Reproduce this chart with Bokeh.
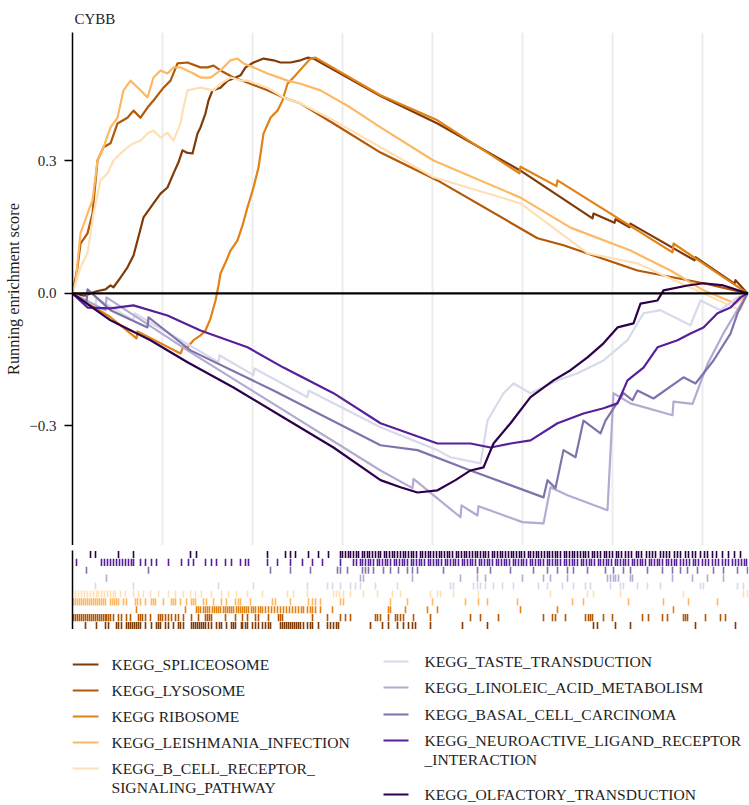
from bokeh.plotting import figure
from bokeh.models import Range1d, FixedTicker, Span, CustomJSTickFormatter, Title
from bokeh.layouts import column
from bokeh.embed import file_html
from bokeh.resources import INLINE
from bokeh.core.properties import value

# ---------------------------------------------------------------- data
N_GENES = 16900          # length of the ranked gene list
GRID_STEP = 2250         # vertical guide spacing (genes)

set_names = [
    "KEGG_SPLICEOSOME",
    "KEGG_LYSOSOME",
    "KEGG RIBOSOME",
    "KEGG_LEISHMANIA_INFECTION",
    "KEGG_B_CELL_RECEPTOR_\nSIGNALING_PATHWAY",
    "KEGG_TASTE_TRANSDUCTION",
    "KEGG_LINOLEIC_ACID_METABOLISM",
    "KEGG_BASAL_CELL_CARCINOMA",
    "KEGG_NEUROACTIVE_LIGAND_RECEPTOR\n_INTERACTION",
    "KEGG_OLFACTORY_TRANSDUCTION",
]
set_colors = ["#7f3b08", "#b35806", "#e08214", "#fdb863", "#fee0b6",
              "#d8daeb", "#b2abd2", "#8073ac", "#56209a", "#2d004b"]

# running enrichment score: gene rank -> score
spliceosome_rank = [0, 300, 600, 825, 950, 1025, 1200, 1375, 1525, 1625, 1775, 1900, 2025, 2200, 2375, 2525,
                    2650, 2750, 2850, 3000, 3125, 3200, 3325, 3400, 3500, 3700, 3875, 4025, 4200, 4325, 4525,
                    4775, 5025, 5200, 5450, 5700, 5875, 6025, 7700, 9125, 11200, 13000, 13025, 13550, 13575,
                    13925, 13950, 15550, 15575, 16550, 16575, 16875]
spliceosome_es = [0, -0.005, 0.005, 0.009, 0.018, 0.014, 0.036, 0.059, 0.086, 0.120, 0.172, 0.188, 0.204, 0.226,
                  0.240, 0.272, 0.297, 0.324, 0.319, 0.317, 0.362, 0.376, 0.408, 0.437, 0.460, 0.466, 0.482,
                  0.487, 0.494, 0.512, 0.523, 0.532, 0.528, 0.523, 0.523, 0.528, 0.534, 0.532, 0.447, 0.385,
                  0.278, 0.170, 0.181, 0.160, 0.168, 0.150, 0.158, 0.075, 0.082, 0.022, 0.030, 0.0]

lysosome_rank = [0, 125, 200, 375, 500, 625, 775, 950, 1125, 1375, 1525, 1700, 1875, 2025, 2275, 2450, 2625,
                 2875, 3200, 3375, 3525, 3700, 4025, 4450, 4875, 5275, 5700, 6525, 7700, 9125, 11625, 12275,
                 14125, 15775, 16875]
lysosome_es = [0, 0.059, 0.113, 0.136, 0.181, 0.301, 0.331, 0.340, 0.385, 0.398, 0.414, 0.398, 0.421, 0.437,
               0.466, 0.482, 0.521, 0.523, 0.512, 0.512, 0.516, 0.505, 0.489, 0.475, 0.460, 0.444, 0.430,
               0.385, 0.319, 0.256, 0.125, 0.109, 0.052, 0.023, 0.0]

ribosome_rank = [0, 950, 1600, 1625, 2700, 2775, 2875, 3025, 3200, 3325, 3450, 3575, 3650, 3700, 3825, 3950,
                 4125, 4250, 4375, 4525, 4650, 4775, 4950, 5125, 5250, 5375, 5525, 5750, 5950, 6075, 7700,
                 9125, 11175, 11200, 12100, 12125, 15000, 15025, 16875]
ribosome_es = [0, -0.054, -0.102, -0.086, -0.136, -0.120, -0.122, -0.106, -0.095, -0.084, -0.057, -0.016,
               0.018, 0.045, 0.070, 0.097, 0.120, 0.154, 0.195, 0.240, 0.285, 0.362, 0.398, 0.414, 0.437,
               0.475, 0.489, 0.512, 0.532, 0.534, 0.449, 0.392, 0.272, 0.287, 0.243, 0.256, 0.093, 0.113, 0.0]

leishmania_rank = [0, 75, 200, 375, 500, 625, 775, 950, 1125, 1275, 1450, 1700, 1875, 2025, 2200, 2375, 2525,
                   2700, 3025, 3200, 3450, 3700, 3950, 4125, 4275, 4525, 4875, 5375, 5700, 6200, 6950, 7700,
                   9025, 11200, 12450, 13950, 14950, 15775, 16575, 16875]
leishmania_es = [0, 0.023, 0.136, 0.181, 0.211, 0.301, 0.331, 0.376, 0.398, 0.460, 0.482, 0.460, 0.444, 0.489,
                 0.505, 0.498, 0.512, 0.512, 0.498, 0.489, 0.489, 0.505, 0.528, 0.532, 0.521, 0.512, 0.498,
                 0.482, 0.475, 0.460, 0.421, 0.376, 0.301, 0.217, 0.149, 0.097, 0.052, 0.007, -0.023, 0.0]

bcell_rank = [0, 200, 375, 525, 700, 875, 1025, 1200, 1375, 1525, 1700, 1875, 2025, 2200, 2375, 2525, 2700,
              2775, 2875, 3200, 3525, 3700, 3950, 4200, 4375, 4875, 5275, 5700, 6525, 7700, 9025, 11200,
              12875, 14125, 15775, 16700, 16875]
bcell_es = [0, 0.059, 0.091, 0.181, 0.256, 0.272, 0.301, 0.317, 0.331, 0.340, 0.346, 0.362, 0.369, 0.353,
            0.364, 0.346, 0.385, 0.421, 0.460, 0.466, 0.460, 0.475, 0.489, 0.482, 0.482, 0.466, 0.444, 0.430,
            0.392, 0.331, 0.263, 0.204, 0.091, 0.068, 0.0, -0.038, 0.0]

taste_rank = [0, 575, 600, 1525, 1550, 3650, 3675, 4525, 4550, 5875, 5900, 7700, 9125, 9450, 10200, 10375,
              10775, 11025, 11450, 12125, 12625, 13275, 13875, 14275, 14700, 15450, 15700, 16200, 16625, 16875]
taste_es = [0, -0.027, -0.011, -0.061, -0.045, -0.156, -0.140, -0.185, -0.170, -0.235, -0.220, -0.303, -0.355,
            -0.371, -0.385, -0.288, -0.226, -0.204, -0.226, -0.197, -0.181, -0.152, -0.106, -0.045, -0.038,
            -0.072, -0.016, -0.038, -0.009, 0.0]

linoleic_rank = [0, 825, 850, 2875, 7700, 8500, 8525, 9700, 9725, 10125, 10150, 11250, 11775, 11950, 12375,
                 13375, 13525, 13950, 15000, 15025, 15500, 15875, 16275, 16875]
linoleic_es = [0, -0.038, -0.009, -0.129, -0.401, -0.441, -0.420, -0.507, -0.480, -0.503, -0.482, -0.518,
               -0.521, -0.439, -0.457, -0.491, -0.226, -0.249, -0.276, -0.245, -0.250, -0.160, -0.090, 0.0]

basal_rank = [0, 350, 375, 950, 1875, 1900, 2950, 5025, 7700, 8625, 9950, 11775, 11875, 12075, 12275, 12575,
              12775, 13200, 13325, 13775, 14000, 14125, 14525, 15275, 15575, 16025, 16450, 16625, 16875]
basal_es = [0, -0.020, 0.009, -0.038, -0.077, -0.054, -0.129, -0.220, -0.344, -0.355, -0.401, -0.462, -0.423,
            -0.441, -0.355, -0.371, -0.288, -0.317, -0.288, -0.226, -0.242, -0.220, -0.238, -0.190, -0.204,
            -0.152, -0.091, -0.045, 0.0]

neuro_rank = [0, 375, 950, 1525, 2375, 3200, 4375, 5275, 6525, 7700, 9125, 9950, 10450, 10950, 11450, 12125,
              12775, 13275, 13625, 13875, 14275, 14625, 15125, 15450, 15775, 16125, 16450, 16700, 16875]
neuro_es = [0, -0.032, -0.034, -0.027, -0.050, -0.084, -0.122, -0.168, -0.226, -0.294, -0.340, -0.340, -0.349,
            -0.340, -0.333, -0.294, -0.272, -0.260, -0.249, -0.197, -0.168, -0.122, -0.106, -0.091, -0.077,
            -0.045, -0.032, -0.009, 0.0]

olfactory_rank = [0, 950, 1950, 2875, 4025, 5275, 6525, 7700, 8200, 8625, 9125, 9575, 9950, 10275, 10525,
                  10950, 11450, 12025, 12450, 12875, 13275, 13625, 14025, 14200, 14625, 14775, 15375, 15775,
                  16275, 16875]
olfactory_es = [0, -0.061, -0.106, -0.156, -0.213, -0.281, -0.349, -0.423, -0.439, -0.451, -0.446, -0.423,
                -0.401, -0.394, -0.340, -0.294, -0.235, -0.197, -0.174, -0.145, -0.113, -0.077, -0.068,
                -0.023, -0.016, 0.007, 0.018, 0.023, 0.018, 0.0]

# positions of the set members in the ranked list
spliceosome_hits = [325, 600, 825, 900, 1100, 1150, 1225, 1350, 1400, 1450, 1500, 1550, 1600, 1650, 1700,
                    1825, 1975, 2100, 2150, 2200, 2325, 2400, 2525, 2650, 2700, 2775, 2975, 3025, 3075, 3125,
                    3175, 3225, 3275, 3325, 3400, 3475, 3600, 3675, 3725, 3850, 3975, 4025, 4075, 4225, 4250,
                    4325, 4375, 4500, 4575, 4650, 4750, 4825, 4900, 4950, 5200, 5250, 5300, 5350, 5400, 5450,
                    5500, 5550, 5600, 5650, 5700, 5775, 5875, 5950, 6000, 6150, 6375, 6450, 6525, 6600, 6650,
                    7450, 7750, 7900, 8125, 8275, 8400, 8500, 8575, 8950, 9750, 10375, 13025, 13125, 13575,
                    13950, 15575, 16575]
lysosome_hits = [25, 75, 125, 175, 225, 275, 325, 375, 425, 475, 525, 575, 625, 675, 725, 775, 825, 850, 900,
                 950, 1025, 1150, 1225, 1350, 1450, 1650, 1700, 1750, 1825, 1950, 2150, 2200, 2250, 2325, 2400,
                 2475, 2575, 2650, 2775, 2975, 3150, 3325, 3375, 3425, 3475, 3825, 4075, 4250, 4375, 4575,
                 4650, 4900, 5150, 5200, 5250, 6000, 6375, 6700, 6825, 6950, 7575, 7625, 7700, 7900, 8075,
                 8125, 8200, 8275, 8525, 8950, 9950, 10200, 10650, 11775, 12000, 12075, 12325, 12825, 12900,
                 12950, 13000, 13275, 13500, 14250, 14400, 14750, 14875, 15275, 15325, 15375, 15825, 16200,
                 16325]
ribosome_hits = [1600, 2825, 3100, 3150, 3200, 3275, 3325, 3375, 3425, 3500, 3550, 3600, 3650, 3700, 3775,
                 3825, 3875, 3925, 3975, 4025, 4100, 4150, 4200, 4250, 4300, 4350, 4400, 4475, 4525, 4575,
                 4650, 4700, 4750, 4825, 4900, 4975, 5050, 5125, 5200, 5275, 5350, 5425, 5500, 5575, 5650,
                 5725, 5775, 5875, 5950, 6000, 6075, 6200, 6500, 7900, 7950, 8325, 8875, 9125, 11200, 12125,
                 15025]
leishmania_hits = [25, 75, 125, 175, 225, 275, 325, 375, 425, 475, 525, 575, 625, 675, 725, 775, 825, 950,
                   1000, 1050, 1100, 1150, 1275, 1350, 1575, 1625, 1700, 1825, 1975, 2025, 2075, 2275, 2475,
                   2525, 2575, 2700, 2850, 2975, 3025, 3075, 3275, 3350, 3525, 3725, 3850, 4075, 4150, 4200,
                   4450, 5000, 5075, 5450, 5900, 6000, 6075, 6200, 6700, 6775, 7950, 8375, 9000, 9825, 10150,
                   10375, 11125, 12500, 12775, 13900, 14775, 15400, 16125]
bcell_hits = [75, 150, 225, 300, 375, 450, 525, 600, 650, 725, 800, 875, 950, 1025, 1075, 1200, 1325, 1525,
              1650, 1775, 1950, 2150, 2400, 2575, 2775, 2950, 3075, 3225, 3475, 3725, 3900, 4100, 4375, 4750,
              5375, 5525, 5875, 6525, 6600, 6675, 6775, 6950, 7275, 7625, 8000, 8200, 8950, 9125, 9200, 9525,
              10150, 11950, 12875, 13025, 13700, 15275, 16775, 16875]
taste_hits = [575, 1525, 3650, 4525, 5875, 6375, 6500, 6700, 6950, 7075, 7200, 7575, 8125, 9450, 9525, 10025,
              10125, 10200, 10325, 10525, 10750, 11025, 11650, 11875, 12250, 12525, 12825, 12950, 13450, 13700,
              13775, 14125, 14375, 14700, 15700, 15775, 16625, 16775]
linoleic_hits = [850, 7200, 7275, 8500, 9700, 10125, 10325, 11250, 11775, 11950, 12375, 13375, 13450, 13525,
                 13575, 13650, 13950, 14000, 15000, 15500, 15875, 16275]
basal_hits = [350, 1900, 4950, 5450, 5950, 6625, 6700, 6875, 7250, 7325, 7400, 7525, 7775, 7950, 8150, 8375,
              8500, 8625, 9275, 10125, 10450, 10950, 11525, 11875, 12125, 12375, 12525, 12875, 13325, 13525,
              13775, 13950, 14375, 14750, 15000, 15200, 15375, 15625, 16025, 16275, 16625, 16875]
neuro_hits = [100, 725, 800, 875, 950, 1025, 1100, 1175, 1250, 1325, 1400, 1475, 1525, 1700, 1825, 1975, 2100,
              2400, 2725, 2900, 3025, 3325, 3475, 3600, 3825, 3975, 4200, 4325, 4400, 4875, 5125, 5450, 5750,
              6000, 6250, 6700, 7025, 7100, 7200, 7250, 7325, 7400, 7450, 7525, 7625, 7675, 7750, 7825, 7875,
              7950, 8050, 8100, 8175, 8250, 8300, 8375, 8475, 8525, 8600, 8675, 8725, 8800, 8900, 8950, 9025,
              9100, 9150, 9225, 9325, 9375, 9450, 9525, 9575, 9650, 9750, 9800, 9875, 9950, 10000, 10075,
              10175, 10225, 10300, 10375, 10425, 10500, 10600, 10650, 10725, 10800, 10850, 10925, 11025,
              11075, 11150, 11225, 11275, 11350, 11450, 11500, 11575, 11650, 11700, 11775, 11875, 11925,
              12000, 12075, 12125, 12200, 12300, 12350, 12425, 12500, 12550, 12625, 12725, 12775, 12850,
              12925, 12975, 13050, 13150, 13200, 13275, 13350, 13400, 13475, 13575, 13625, 13700, 13775,
              13825, 13900, 14000, 14050, 14125, 14200, 14250, 14325, 14425, 14475, 14550, 14625, 14675,
              14750, 14850, 14900, 14975, 15050, 15100, 15200, 15275, 15350, 15425, 15525, 15575, 15650,
              15750, 15825, 15900, 16000, 16075, 16150, 16250, 16325, 16400, 16500, 16575, 16650, 16725,
              16800, 16850]
olfactory_hits = [450, 575, 1150, 1525, 2950, 3100, 4875, 5325, 5450, 5575, 5900, 6150, 6400, 6700, 6750,
                  6825, 6900, 6950, 7025, 7100, 7150, 7250, 7300, 7375, 7425, 7500, 7575, 7650, 7700, 7800,
                  7850, 7925, 8000, 8050, 8125, 8200, 8275, 8325, 8400, 8475, 8525, 8600, 8700, 8750, 8825,
                  8900, 8950, 9025, 9100, 9175, 9225, 9300, 9375, 9425, 9500, 9600, 9650, 9725, 9800, 9850,
                  9925, 10000, 10075, 10125, 10200, 10275, 10325, 10400, 10500, 10550, 10625, 10700, 10750,
                  10825, 10900, 10975, 11025, 11100, 11175, 11225, 11300, 11400, 11450, 11525, 11600, 11650,
                  11725, 11800, 11875, 11925, 12000, 12075, 12125, 12200, 12300, 12350, 12425, 12500, 12550,
                  12625, 12700, 12775, 12825, 12900, 13000, 13050, 13125, 13200, 13300, 13350, 13425, 13500,
                  13600, 13650, 13725, 13825, 13900, 13975, 14100, 14150, 14225, 14350, 14425, 14500, 14575,
                  14700, 14775, 14850, 14925, 15050, 15125, 15200, 15325, 15400, 15500, 15575, 15700, 15800,
                  15875, 16000, 16100, 16250, 16400, 16550, 16700]

curve_ranks = [spliceosome_rank, lysosome_rank, ribosome_rank, leishmania_rank, bcell_rank,
               taste_rank, linoleic_rank, basal_rank, neuro_rank, olfactory_rank]
curve_scores = [spliceosome_es, lysosome_es, ribosome_es, leishmania_es, bcell_es,
                taste_es, linoleic_es, basal_es, neuro_es, olfactory_es]
hit_ranks = [spliceosome_hits, lysosome_hits, ribosome_hits, leishmania_hits, bcell_hits,
             taste_hits, linoleic_hits, basal_hits, neuro_hits, olfactory_hits]

SERIF = "Liberation Serif"
INK = "#1e1e1e"
LEFT, RIGHT = 72, 1       # panel borders shared by all three stacked panels
WIDTH = 749

# ---------------------------------------------------------------- running score panel
p = figure(width=WIDTH, height=545, x_range=Range1d(0, N_GENES), y_range=Range1d(-0.571, 0.591),
           output_backend="svg", toolbar_location=None,
           min_border_left=LEFT, min_border_right=RIGHT, min_border_top=32, min_border_bottom=0)
p.title = Title(text="CYBB", text_font=SERIF, text_font_size="15px", text_font_style="normal",
                text_color=INK, offset=2, standoff=12)
p.outline_line_color = None
p.background_fill_color = "white"

p.xaxis.visible = False
p.xgrid.ticker = FixedTicker(ticks=[GRID_STEP * k for k in range(1, 8)])
p.xgrid.grid_line_color = "#ececec"
p.xgrid.grid_line_width = 2
p.ygrid.grid_line_color = None

p.yaxis.ticker = FixedTicker(ticks=[-0.3, 0.0, 0.3])
p.yaxis.formatter = CustomJSTickFormatter(code="return tick.toFixed(1).replace('-', '\u2212');")
p.yaxis.axis_label = "Running enrichment score"
p.yaxis.axis_label_text_font = SERIF
p.yaxis.axis_label_text_font_size = "16.3px"
p.yaxis.axis_label_text_font_style = "normal"
p.yaxis.axis_label_text_color = INK
p.yaxis.axis_label_standoff = 3
p.yaxis.major_label_text_font = SERIF
p.yaxis.major_label_text_font_size = "15px"
p.yaxis.major_label_text_color = INK
p.yaxis.major_label_standoff = 8
p.yaxis.axis_line_color = "black"
p.yaxis.axis_line_width = 1.5
p.yaxis.major_tick_line_color = "black"
p.yaxis.major_tick_line_width = 1.5
p.yaxis.major_tick_out = 8
p.yaxis.major_tick_in = 0
p.yaxis.minor_tick_line_color = None

for xs, ys, col in zip(curve_ranks, curve_scores, set_colors):
    p.line(xs, ys, line_color=col, line_width=2.2, line_join="round")

p.add_layout(Span(location=0, dimension="width", line_color="black", line_width=2.2))

# ---------------------------------------------------------------- hit rug panel
rug = figure(width=WIDTH, height=84, x_range=p.x_range, y_range=Range1d(0.5, len(set_names) + 0.5),
             output_backend="svg", toolbar_location=None,
             min_border_left=LEFT, min_border_right=RIGHT, min_border_top=5, min_border_bottom=0)
rug.outline_line_color = None
rug.xaxis.visible = False
rug.xgrid.grid_line_color = None
rug.ygrid.grid_line_color = None
rug.yaxis.ticker = FixedTicker(ticks=[])
rug.yaxis.major_label_text_font_size = "0px"
rug.yaxis.axis_line_color = "black"
rug.yaxis.axis_line_width = 1.5
rug.yaxis.major_tick_line_color = None
rug.yaxis.minor_tick_line_color = None

for row, (hits, col) in enumerate(zip(hit_ranks, set_colors), start=1):
    rug.segment(x0=hits, x1=hits, y0=[row - 0.45] * len(hits), y1=[row + 0.45] * len(hits),
                line_color=col, line_width=1.6)

# ---------------------------------------------------------------- legend panel (page-pixel coordinates)
leg = figure(width=WIDTH, height=176, x_range=Range1d(LEFT, WIDTH - RIGHT), y_range=Range1d(176, 0),
             output_backend="svg", toolbar_location=None,
             min_border_left=LEFT, min_border_right=RIGHT, min_border_top=0, min_border_bottom=0)
leg.outline_line_color = None
leg.axis.visible = False
leg.grid.grid_line_color = None

key_x = [(72, 98, 111)] * 5 + [(383, 408, 424)] * 5
key_y = [35, 61, 87, 113, 139, 32, 58, 85, 111, 165]
LINE_GAP = 19
for (x0, x1, tx), ky, name, col in zip(key_x, key_y, set_names, set_colors):
    leg.segment(x0=[x0], x1=[x1], y0=[ky], y1=[ky], line_color=col, line_width=2)
    lines = name.split("\n")
    leg.text(x=[tx] * len(lines), y=[ky + LINE_GAP * k for k in range(len(lines))], text=lines,
             text_font=value(SERIF), text_font_size="15.6px", text_baseline="middle",
             text_color=INK)

layout = column(p, rug, leg)
open("out.html", "w").write(file_html(layout, INLINE))
